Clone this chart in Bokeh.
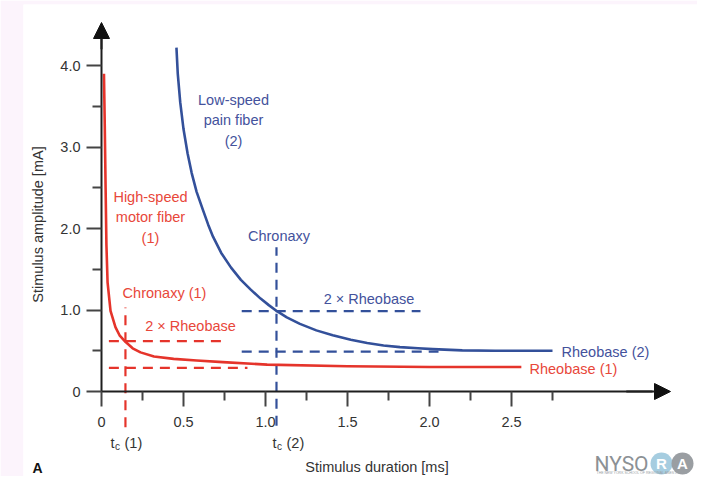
import math
from bokeh.plotting import figure
from bokeh.models import Range1d, FixedTicker, Arrow, NormalHead, Label
from bokeh.core.properties import value
from bokeh.embed import file_html
from bokeh.resources import INLINE

# ---------------- data ----------------
red_t = [0.015, 0.02, 0.025, 0.03, 0.037, 0.055, 0.085, 0.11, 0.146, 0.19, 0.238, 0.32, 0.44, 0.58, 0.74, 1.01, 1.5, 2.0, 2.56]
red_i = [3.90, 3.25, 2.50, 1.80, 1.34, 0.99, 0.79, 0.69, 0.61, 0.53, 0.48, 0.43, 0.40, 0.38, 0.36, 0.33, 0.31, 0.30, 0.30]

blue_t = [0.457, 0.465, 0.48, 0.50, 0.525, 0.55, 0.58, 0.62, 0.65, 0.68, 0.73, 0.79, 0.85, 0.91, 0.97, 1.02,
          1.07, 1.13, 1.21, 1.31, 1.41, 1.52, 1.62, 1.72, 1.82, 1.93, 2.02, 2.20, 2.40, 2.75]
blue_i = [4.22, 3.90, 3.55, 3.22, 2.92, 2.68, 2.45, 2.22, 2.05, 1.90, 1.70, 1.52, 1.37, 1.25, 1.14, 1.06,
          0.985, 0.91, 0.83, 0.75, 0.69, 0.635, 0.595, 0.565, 0.545, 0.53, 0.52, 0.505, 0.50, 0.50]

red_chronaxy = 0.146
red_rheobase = 0.29
red_2rheobase = 0.617
blue_chronaxy = 1.067
blue_rheobase = 0.49
blue_2rheobase = 0.985

# guide-line extents (data units)
red_guide_x0 = [red_chronaxy, 0.045, 0.045]
red_guide_x1 = [red_chronaxy, 0.745, 0.89]
red_guide_y0 = [-0.44, red_2rheobase, red_rheobase]
red_guide_y1 = [1.03, red_2rheobase, red_rheobase]

blue_guide_x0 = [blue_chronaxy, 0.855, 0.855]
blue_guide_x1 = [blue_chronaxy, 1.945, 2.055]
blue_guide_y0 = [-0.42, blue_2rheobase, blue_rheobase]
blue_guide_y1 = [1.77, blue_2rheobase, blue_rheobase]

x_major = [0, 0.5, 1.0, 1.5, 2.0, 2.5]
x_minor = [0.25, 0.75, 1.25, 1.75, 2.25, 2.75]
x_tick_labels = ["0", "0.5", "1.0", "1.5", "2.0", "2.5"]
y_major = [0, 1.0, 2.0, 3.0, 4.0]
y_minor = [0.5, 1.5, 2.5, 3.5]
y_tick_labels = ["0", "1.0", "2.0", "3.0", "4.0"]

# ---------------- styling ----------------
RED_LINE = "#e5342b"
RED_TEXT = "#e8473a"
BLUE_LINE = "#33509a"
BLUE_TEXT = "#44529c"
AX = "#1e1e1e"
TXT = "#333333"
FONT = value("Liberation Sans")
FS = "14.5px"

# pixel -> data helpers (used only for placing annotation text)
X0PX, XSC = 101.0, 164.0
Y0PX, YSC = 391.0, 81.5
def dx(px):
    return (px - X0PX) / XSC
def dy(py):
    return (Y0PX - py) / YSC

W, H = 697, 476
BL, BT = 23, 4
p = figure(width=W, height=H,
           x_range=Range1d(dx(BL), dx(W)), y_range=Range1d(dy(H), dy(BT)),
           output_backend="svg", toolbar_location=None,
           min_border_left=BL, min_border_top=BT, min_border_right=0, min_border_bottom=0,
           outline_line_color=None, background_fill_color="white",
           border_fill_color="#fcf4fc")
p.grid.visible = False

xa = p.xaxis[0]
xa.fixed_location = 0
xa.bounds = (0, 3.36)
xa.ticker = FixedTicker(ticks=x_major, minor_ticks=x_minor)
xa.major_label_overrides = {t: s for t, s in zip(x_major, x_tick_labels)}
xa.axis_label = "Stimulus duration [ms]"
xa.axis_label_standoff = 29
xa.axis_label_text_font_style = "normal"

ya = p.yaxis[0]
ya.fixed_location = 0
ya.bounds = (0, 4.33)
ya.ticker = FixedTicker(ticks=y_major, minor_ticks=y_minor)
ya.major_label_overrides = {t: s for t, s in zip(y_major, y_tick_labels)}

for ax in (xa, ya):
    ax.axis_line_color = AX
    ax.axis_line_width = 2
    ax.major_tick_line_color = "#444444"
    ax.minor_tick_line_color = "#444444"
    ax.major_tick_line_width = 2
    ax.minor_tick_line_width = 2
    ax.major_tick_out = 15
    ax.major_tick_in = 0
    ax.minor_tick_out = 9
    ax.minor_tick_in = 0
    ax.major_label_text_font = "Liberation Sans"
    ax.major_label_text_font_size = FS
    ax.major_label_text_color = TXT
    ax.axis_label_text_font = "Liberation Sans"
    ax.axis_label_text_font_size = FS
    ax.axis_label_text_color = TXT
xa.major_label_standoff = 10
ya.major_label_standoff = 6

# arrow heads at axis ends
p.add_layout(Arrow(end=NormalHead(size=16, fill_color="#111111", line_color="#111111"),
                   x_start=3.2, y_start=0, x_end=dx(670), y_end=0,
                   line_color=AX, line_width=2))
p.add_layout(Arrow(end=NormalHead(size=16, fill_color="#111111", line_color="#111111"),
                   x_start=0, y_start=4.2, x_end=0, y_end=dy(22),
                   line_color=AX, line_width=2))

# guide lines
p.segment(x0=red_guide_x0, y0=red_guide_y0, x1=red_guide_x1, y1=red_guide_y1,
          line_color=RED_LINE, line_width=2.2, line_dash="10 7")
p.segment(x0=blue_guide_x0, y0=blue_guide_y0, x1=blue_guide_x1, y1=blue_guide_y1,
          line_color=BLUE_LINE, line_width=2.2, line_dash="10 7")

# curves
p.line(red_t, red_i, line_color=RED_LINE, line_width=2.6, line_join="round")
p.line(blue_t, blue_i, line_color=BLUE_LINE, line_width=2.6, line_join="round")

# annotation texts
def txt(x, y, s, color, align="center", size=FS, style="normal", lh=1.25, font=FONT):
    p.text(x=[x], y=[y], text=[s], text_color=color, text_font=font,
           text_font_size=size, text_align=align, text_baseline="middle",
           text_font_style=style, text_line_height=lh)

txt(dx(233), dy(120), "Low-speed\npain fiber\n(2)", BLUE_TEXT, lh=1.28)
txt(dx(150), dy(217), "High-speed\nmotor fiber\n(1)", RED_TEXT, lh=1.28)
txt(dx(278.5), dy(235), "Chronaxy", BLUE_TEXT)
txt(dx(368.5), dy(298), "2 \u00d7 Rheobase", BLUE_TEXT)
txt(dx(164), dy(292), "Chronaxy (1)", RED_TEXT)
txt(dx(190), dy(325), "2 \u00d7 Rheobase", RED_TEXT)
txt(dx(561), dy(351), "Rheobase (2)", BLUE_TEXT, align="left")
txt(dx(529), dy(368), "Rheobase (1)", RED_TEXT, align="left")

# t_c labels
for tag, left_px in (("(1)", 110), ("(2)", 272)):
    base = dx(left_px)
    txt(base, dy(442), "t", TXT, align="left")
    txt(base + dx(X0PX + 4.5), dy(446), "c", TXT, align="left", size="10px")
    txt(base + dx(X0PX + 14), dy(442), tag, TXT, align="left")

txt(dx(37), dy(467), "A", "#111111", size="14px", style="bold")

# y axis title
p.add_layout(Label(x=dx(37), y=dy(224), text="Stimulus amplitude [mA]", angle=math.pi / 2,
                   text_align="center", text_baseline="middle", text_font="Liberation Sans",
                   text_font_size=FS, text_color=TXT))

# NYSORA logo
txt(dx(594), dy(463), "NYSO", "#8c9195", align="left", size="21px", font=value("Roboto"))
p.scatter(x=[dx(661), dx(682)], y=[dy(463), dy(463)], size=22,
          fill_color=["#a6cde0", "#9a9ea2"], line_color=None)
txt(dx(661), dy(463), "R", "white", size="15px", style="bold")
txt(dx(682), dy(463), "A", "white", size="15px", style="bold")
txt(dx(596), dy(472.5), "THE NEW YORK SCHOOL OF REGIONAL ANESTHESIA", "#9aa0a5", align="left", size="3.5px")

open("out.html", "w").write(file_html(p, INLINE))
